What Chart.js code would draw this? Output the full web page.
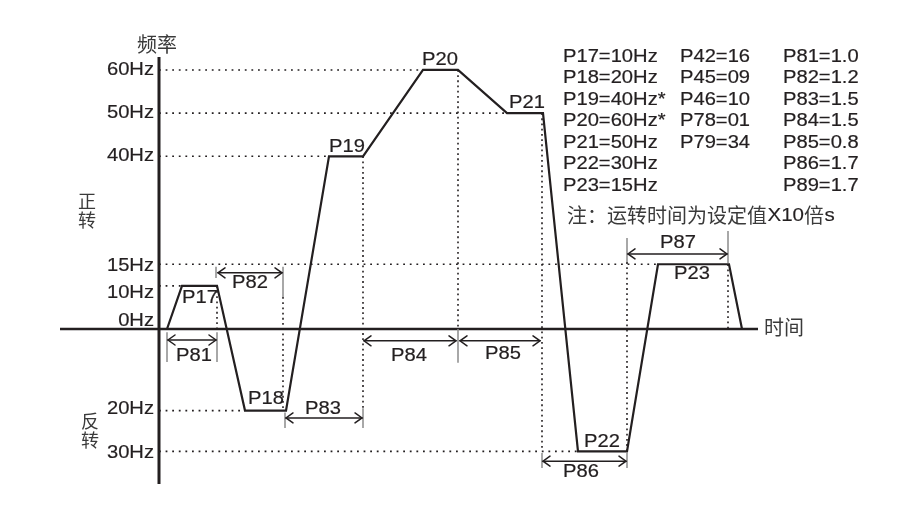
<!DOCTYPE html>
<html><head><meta charset="utf-8">
<script src="https://cdn.jsdelivr.net/npm/chart.js@4.4.1/dist/chart.umd.min.js"></script>
<style>html,body{margin:0;padding:0;background:#fff}#wrap{width:921px;height:506px}</style>
</head><body><div id="wrap"><canvas id="c" width="921" height="506"></canvas></div>
<script>
// ---- data (time in chart units, frequency in Hz; negative = reverse) ----
const profileTime = [0.8, 2.3, 5.8, 8.6, 12.7, 17.0, 20.4, 26.4, 29.9, 34.8, 38.4, 41.9, 46.8, 49.9, 57.0, 58.3];
const profileFreq = [0, 10, 10, -20, -20, 40, 40, 60, 60, 50, 50, -30, -30, 15, 15, 0];
const tickValues = [60, 50, 40, 15, 10, 0, -20, -30];
const tickLabels = ['60Hz', '50Hz', '40Hz', '15Hz', '10Hz', '0Hz', '20Hz', '30Hz'];
const guideEndTime = [26.4, 34.8, 17.0, 49.9, 2.3, null, 8.6, 41.9];
// vertical dotted guides: [time, fromHz, toHz]
const verticalGuides = [[5.8, 10, 0], [12.4, 7.4, -19.4], [20.4, 40, -19.4], [29.9, 60, 0], [38.3, 50, -30], [46.8, 15.5, -30], [56.9, 15, 0]];
// extension (witness) lines: [time, fromHz, toHz]
const witnessLines = [[0.8, -0.8, -8.1], [5.8, -0.8, -8.1], [5.7, 14.4, 11.8], [12.4, 14.4, 7.4], [12.6, -20.5, -24.3], [20.4, -19.4, -24.3], [29.9, 0, -8.3], [38.3, -30.4, -34.1], [46.8, -30.4, -34.1], [46.8, 21.1, 15.5], [56.9, 22.7, 15.3]];
// dimension arrows: [name, fromTime, toTime, levelHz]
const dimArrows = [['P81', 0.8, 5.8, -2.7], ['P82', 5.8, 12.4, 13.0], ['P83', 12.6, 20.4, -21.8], ['P84', 20.4, 29.8, -2.9], ['P85', 30.0, 38.2, -2.9], ['P86', 38.3, 46.8, -32.4], ['P87', 46.8, 56.9, 17.4]];
// parameter labels: [name, time, Hz]
const paramLabels = [['P17', 4.1, 7.2], ['P18', 10.7, -17.2], ['P19', 18.8, 42.2], ['P20', 28.1, 62.3], ['P21', 36.8, 52.4], ['P22', 44.3, -27.7], ['P23', 53.3, 12.7],
  ['P81', 3.5, -6.6], ['P82', 9.1, 10.7], ['P83', 16.4, -19.6], ['P84', 25.0, -6.6], ['P85', 34.4, -6.1], ['P86', 42.2, -35.0], ['P87', 51.9, 19.9]];
const legendCol1 = ['P17=10Hz', 'P18=20Hz', 'P19=40Hz*', 'P20=60Hz*', 'P21=50Hz', 'P22=30Hz', 'P23=15Hz'];
const legendCol2 = ['P42=16', 'P45=09', 'P46=10', 'P78=01', 'P79=34'];
const legendCol3 = ['P81=1.0', 'P82=1.2', 'P83=1.5', 'P84=1.5', 'P85=0.8', 'P86=1.7', 'P89=1.7'];
const noteParts = [['注：运转时间为设定值', 'cjk'], ['X10', 'latin'], ['倍', 'cjk'], ['s', 'latin']];
const yTitle = '频率', xTitle = '时间', fwdText = ['正', '转'], revText = ['反', '转'];

// ---- a linear scale whose positive and negative halves have their own spacing ----
class SplitLinear extends Chart.LinearScale {
  zeroPx() { return this.top + (this.bottom - this.top) * this.options.zeroAt; }
  getPixelForValue(v) {
    if (v === null || v === undefined || isNaN(v)) return NaN;
    const z = this.zeroPx();
    return v >= 0 ? z - (z - this.top) * v / this.max : z + (this.bottom - z) * v / this.min;
  }
  getValueForPixel(p) {
    const z = this.zeroPx();
    return p <= z ? (z - p) / (z - this.top) * this.max : (p - z) / (this.bottom - z) * this.min;
  }
}
SplitLinear.id = 'splitLinear';
SplitLinear.defaults = Chart.LinearScale.defaults;
Chart.register(SplitLinear);

const INK = '#231f20', GRAY = '#8c8c8c', CJKINK = '#3a3a3a';
const LATIN = '"Liberation Sans", Arial, sans-serif';
const CJK = '"Noto Sans CJK SC", sans-serif';

const datasets = [];
tickValues.forEach((v, i) => {
  if (guideEndTime[i] == null) return;
  datasets.push({ data: [{ x: 0, y: v }, { x: guideEndTime[i], y: v }], borderColor: INK, borderWidth: 1.6, borderDash: [1.8, 4.8] });
});
verticalGuides.forEach(g => datasets.push({ data: [{ x: g[0], y: g[1] }, { x: g[0], y: g[2] }], borderColor: INK, borderWidth: 1.6, borderDash: [1.8, 3.4] }));
witnessLines.forEach(g => datasets.push({ data: [{ x: g[0], y: g[1] }, { x: g[0], y: g[2] }], borderColor: GRAY, borderWidth: 1.5 }));
datasets.push({ data: [{ x: 0, y: 63 }, { x: 0, y: -38 }], borderColor: INK, borderWidth: 3 });
datasets.push({ data: [{ x: -9.9, y: 0 }, { x: 59.9, y: 0 }], borderColor: INK, borderWidth: 2.5 });
datasets.push({ data: profileTime.map((t, i) => ({ x: t, y: profileFreq[i] })), borderColor: INK, borderWidth: 2.2, borderJoinStyle: 'miter' });
datasets.forEach(d => { d.showLine = true; d.pointRadius = 0; d.fill = false; d.tension = 0; d.clip = false; });

function drawText(ctx, s, x, y, align, font, color, sx, bold) {
  ctx.save();
  ctx.font = font; ctx.fillStyle = color; ctx.strokeStyle = color; ctx.textBaseline = 'middle'; ctx.textAlign = 'left';
  const w = ctx.measureText(s).width * sx;
  const x0 = align === 'center' ? x - w / 2 : align === 'right' ? x - w : x;
  ctx.translate(x0, y); ctx.scale(sx, 1); ctx.fillText(s, 0, 0);
  if (bold) { ctx.lineWidth = bold; ctx.strokeText(s, 0, 0); }
  ctx.restore();
  return w;
}

const tickNudge = { 15: 2, 10: 7, 0: -8, '-20': -2, '-30': 2 };

const annotate = {
  id: 'annotate',
  afterDatasetsDraw(chart) {
    const ctx = chart.ctx, xs = chart.scales.x, ys = chart.scales.y;
    const X = t => xs.getPixelForValue(t), Y = v => ys.getPixelForValue(v);
    const f18 = '18px ' + LATIN, SX = 1.12, B = 0.2;
    // y tick labels
    tickValues.forEach((v, i) => drawText(ctx, tickLabels[i], X(0) - 5, Y(v) + (tickNudge[v] || 0), 'right', f18, INK, SX, B));
    // dimension arrows
    ctx.save();
    ctx.strokeStyle = INK; ctx.lineWidth = 1.5; ctx.lineCap = 'round'; ctx.lineJoin = 'miter';
    dimArrows.forEach(a => {
      const x1 = X(a[1]) + 1, x2 = X(a[2]) - 1, y = Y(a[3]);
      ctx.beginPath(); ctx.moveTo(x1, y); ctx.lineTo(x2, y); ctx.stroke();
      ctx.beginPath(); ctx.moveTo(x1 + 7, y - 5); ctx.lineTo(x1, y); ctx.lineTo(x1 + 7, y + 5); ctx.stroke();
      ctx.beginPath(); ctx.moveTo(x2 - 7, y - 5); ctx.lineTo(x2, y); ctx.lineTo(x2 - 7, y + 5); ctx.stroke();
    });
    ctx.restore();
    // parameter labels
    paramLabels.forEach(p => drawText(ctx, p[0], X(p[1]), Y(p[2]), 'center', f18, INK, SX, B));
    // legend columns
    legendCol1.forEach((s, i) => drawText(ctx, s, 563, 57 + i * 21.5, 'left', f18, INK, SX, B));
    legendCol2.forEach((s, i) => drawText(ctx, s, 680, 57 + i * 21.5, 'left', f18, INK, SX, B));
    legendCol3.forEach((s, i) => drawText(ctx, s, 783, 57 + i * 21.5, 'left', f18, INK, SX, B));
    // note line (mixed CJK / Latin)
    let nx = 567;
    noteParts.forEach(p => {
      if (p[1] === 'cjk') nx += drawText(ctx, p[0], nx, 215, 'left', '20px ' + CJK, CJKINK, 1);
      else nx += drawText(ctx, p[0], nx + 0.5, 216, 'left', '19px ' + LATIN, INK, 1.08, 0.15) + 0.5;
    });
    // axis titles
    drawText(ctx, yTitle, 157, 44, 'center', '20px ' + CJK, CJKINK, 1);
    drawText(ctx, xTitle, 784, 327, 'center', '20px ' + CJK, CJKINK, 1);
    drawText(ctx, fwdText[0], 87, 201, 'center', '18px ' + CJK, CJKINK, 1);
    drawText(ctx, fwdText[1], 87, 220, 'center', '18px ' + CJK, CJKINK, 1);
    drawText(ctx, revText[0], 90, 421, 'center', '18px ' + CJK, CJKINK, 1);
    drawText(ctx, revText[1], 90, 440, 'center', '18px ' + CJK, CJKINK, 1);
  }
};

new Chart(document.getElementById('c'), {
  type: 'scatter',
  data: { datasets },
  options: {
    responsive: false, animation: false, events: [],
    layout: { padding: { left: 60, right: 163, top: 57, bottom: 22 } },
    plugins: { legend: { display: false }, tooltip: { enabled: false } },
    scales: {
      x: { type: 'linear', min: -9.9, max: 59.9, display: false },
      y: { type: 'splitLinear', min: -38, max: 63, zeroAt: 272 / 427, display: false }
    }
  },
  plugins: [annotate]
});
</script>
</body></html>
